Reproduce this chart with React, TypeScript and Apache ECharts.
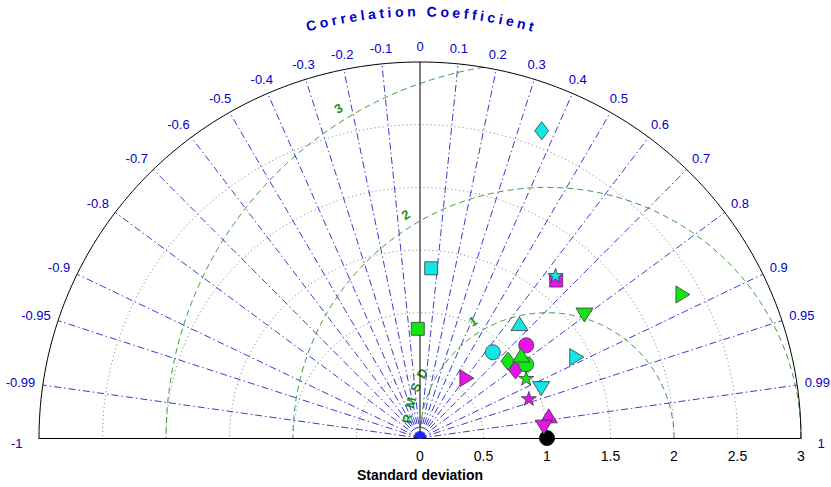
import React, { useEffect, useRef } from "react";
import * as echarts from "echarts";

// ---- data ----
const corrTicks = [-1, -0.99, -0.95, -0.9, -0.8, -0.7, -0.6, -0.5, -0.4, -0.3, -0.2, -0.1, 0, 0.1, 0.2, 0.3, 0.4, 0.5, 0.6, 0.7, 0.8, 0.9, 0.95, 0.99, 1];
const stdArcs = [0.5, 1, 1.5, 2, 2.5];
const stdMax = 3;
const stdTickStep = 0.5;
const refStd = 1;
const rmsdLevels = [1, 2, 3];

const modelStd = [1.357, 0.872, 1.652, 1.681, 2.632, 2.366, 1.625, 1.203, 1.117, 0.893, 0.928, 0.925, 1.022, 1.036, 1.393, 0.963, 1.033, 0.914, 0.604, 1.029, 0.979];
const modelCorr = [0.065, -0.02, 0.649, 0.635, 0.364, 0.875, 0.797, 0.651, 0.749, 0.642, 0.811, 0.748, 0.818, 0.769, 0.886, 0.868, 0.924, 0.938, 0.611, 0.985, 0.996];
const modelShape = ["square", "square", "square", "star", "diamond", "triRight", "triDown", "triUp", "circle", "circle", "diamond", "diamond", "circle", "triUp", "triRight", "star", "triDown", "star", "triRight", "triUp", "triDown"];
const modelColor = ["cyan", "green", "magenta", "cyan", "cyan", "green", "green", "cyan", "magenta", "cyan", "magenta", "green", "green", "green", "cyan", "green", "cyan", "magenta", "magenta", "magenta", "magenta"];

const titleText = "Correlation Coefficient";
const xAxisTitle = "Standard deviation";
const rmsdTitle = ["R", "M", "S", "D"];

// ---- styles ----
const palette: Record<string, string> = { cyan: "#14E6E6", green: "#14E614", magenta: "#E614E6", black: "#000000" };
const BLUE = "#0000C8";
const GREEN_TXT = "#1E951E";
const STAR = "path://M0,-10 L-2.245,-3.09 L-9.51,-3.09 L-3.633,1.18 L-5.88,8.09 L0,3.82 L5.88,8.09 L3.633,1.18 L9.51,-3.09 L2.245,-3.09 Z";
const shapeSymbol: Record<string, { symbol: string; size: any; rotate: number }> = {
  square: { symbol: "rect", size: 13, rotate: 0 },
  circle: { symbol: "circle", size: 15, rotate: 0 },
  diamond: { symbol: "diamond", size: [14, 18], rotate: 0 },
  triUp: { symbol: "triangle", size: [17, 14], rotate: 0 },
  triDown: { symbol: "triangle", size: [17, 14], rotate: 180 },
  triRight: { symbol: "triangle", size: [17, 14], rotate: -90 },
  star: { symbol: STAR, size: [15, 14], rotate: 0 },
};
const FONT = "Liberation Sans, Arial, sans-serif";

const toXY = (s: number, c: number) => [s * c, s * Math.sqrt(Math.max(0, 1 - c * c))];
const arcPts = (cx: number, r: number, a0: number, a1: number) => {
  const pts: number[][] = [];
  const n = 180;
  for (let i = 0; i <= n; i++) {
    const a = a0 + ((a1 - a0) * i) / n;
    pts.push([cx + r * Math.cos(a), r * Math.sin(a)]);
  }
  return pts;
};
const lineSeries = (data: number[][], color: string, type: any, z = 2) => ({
  type: "line",
  data,
  showSymbol: false,
  symbol: "none",
  silent: true,
  clip: false,
  z,
  lineStyle: { color, width: 1, type, opacity: 1 },
});

const ARIAL_W: Record<string, number> = { ".": 0.278, "-": 0.333, " ": 0.278 };
const ARIAL_BOLD_W: Record<string, number> = { C: 0.722, o: 0.611, r: 0.389, e: 0.556, l: 0.278, a: 0.556, t: 0.333, i: 0.278, n: 0.611, f: 0.333, c: 0.556, " ": 0.278, R: 0.722, M: 0.833, S: 0.667, D: 0.722 };

export default function App() {
  const ref = useRef<HTMLDivElement>(null);
  useEffect(() => {
    document.body.style.margin = "0";
    const chart = echarts.init(ref.current!, null, { renderer: "svg" });

    const series: any[] = [];
    stdArcs.forEach((s) => series.push(lineSeries(arcPts(0, s, 0, Math.PI), "#808080", [1, 3])));
    series.push(lineSeries(arcPts(0, stdMax, 0, Math.PI), "#000000", "solid", 3));
    corrTicks.forEach((c) => {
      if (Math.abs(c) >= 1) return;
      const end = toXY(stdMax, c);
      if (c === 0) series.push(lineSeries([[0, 0], end], "#000000", "solid", 3));
      else series.push(lineSeries([[0, 0], end], "#3b3bd0", [7, 3, 1.5, 3]));
    });
    rmsdLevels.forEach((r) => {
      const xi = (stdMax * stdMax - r * r + refStd * refStd) / (2 * refStd);
      const cosA = Math.max(-1, Math.min(1, (xi - refStd) / r));
      const a0 = Math.acos(cosA);
      series.push(lineSeries(arcPts(refStd, r, a0, Math.PI), "#3a9a3a", [6, 4]));
    });
    series.push({
      type: "scatter",
      silent: true,
      clip: false,
      z: 4,
      data: [[0, 0]],
      symbol: "path://M-10,0 A10,10 0 0 1 10,0 Z",
      symbolSize: [12, 6],
      symbolOffset: [0, -3],
      itemStyle: { color: "#1f1fff", opacity: 1 },
    });
    const pts: any[] = [
      {
        value: toXY(refStd, 1),
        symbol: "circle",
        symbolSize: 15,
        itemStyle: { color: palette.black, borderColor: "#000", borderWidth: 0.8, opacity: 1 },
      },
    ];
    modelStd.forEach((s, i) => {
      const sh = shapeSymbol[modelShape[i]];
      pts.push({
        value: toXY(s, modelCorr[i]),
        symbol: sh.symbol,
        symbolSize: sh.size,
        symbolRotate: sh.rotate,
        itemStyle: { color: palette[modelColor[i]], borderColor: "#3a3a3a", borderWidth: 0.8, opacity: 1 },
      });
    });
    series.push({ type: "scatter", clip: false, z: 5, data: pts, itemStyle: { opacity: 1 } });

    chart.setOption({
      animation: false,
      grid: { left: 39, right: 30, top: 62, bottom: 44, containLabel: false },
      xAxis: {
        type: "value",
        min: -stdMax,
        max: stdMax,
        interval: stdTickStep,
        splitLine: { show: false },
        axisTick: { show: false },
        axisLine: { lineStyle: { color: "#000", width: 1 } },
        axisLabel: {
          margin: 11,
          color: "#000",
          fontSize: 14,
          fontFamily: "Liberation Sans Narrow, Liberation Sans, Arial, sans-serif",
          formatter: (v: number) => (v < 0 ? "" : String(v)),
        },
        name: xAxisTitle,
        nameLocation: "middle",
        nameGap: 29,
        nameTextStyle: { color: "#000", fontSize: 14, fontWeight: "bold", fontFamily: FONT },
      },
      yAxis: { type: "value", min: 0, max: stdMax, show: false },
      series,
    });

    const px = (x: number, y: number) => chart.convertToPixel({ gridIndex: 0 } as any, [x, y]) as number[];
    const o = px(0, 0);
    const scale = px(1, 0)[0] - o[0];
    const g: any[] = [];
    const txt = (x: number, y: number, text: string, font: string, fill: string, rotation = 0) => ({
      type: "text",
      x,
      y,
      rotation,
      silent: true,
      style: { text, font, fill, align: "center", verticalAlign: "middle", textAlign: "center", textVerticalAlign: "middle" },
    });

    // correlation labels
    corrTicks.forEach((c) => {
      const th = Math.acos(c);
      const edge = Math.abs(c) === 1;
      const R = edge ? 3.13 : 3.06;
      const [x0, y0] = px(R * Math.cos(th), R * Math.sin(th));
      const label = String(c);
      const w = label.split("").reduce((a, ch) => a + (ARIAL_W[ch] ?? 0.556) * 13, 0);
      const frac = Math.min(1, Math.max(0, (Math.abs(c) - 0.3) / 0.4));
      const x = x0 + Math.sign(c) * frac * (w / 2);
      const y = y0 - 8 * Math.sin(th) + (edge ? 5 : 0);
      g.push(txt(x, y, label, `13px ${FONT}`, BLUE));
    });

    // curved title
    const tSize = 14;
    const tGap = 3.6;
    const Rt = 3.36 * scale;
    const widths = titleText.split("").map((ch) => (ARIAL_BOLD_W[ch] ?? 0.556) * tSize);
    const L = widths.reduce((a, b) => a + b, 0) + tGap * (widths.length - 1);
    let s = -L / 2;
    titleText.split("").forEach((ch, i) => {
      const sc = s + widths[i] / 2;
      s += widths[i] + tGap;
      if (ch === " ") return;
      const th = Math.PI / 2 - sc / Rt;
      g.push(txt(o[0] + Rt * Math.cos(th), o[1] - Rt * Math.sin(th), ch, `bold ${tSize}px ${FONT}`, BLUE, th - Math.PI / 2));
    });

    // RMSD labels
    const phiL = (122 * Math.PI) / 180;
    rmsdLevels.forEach((r) => {
      const rr = r + 0.1;
      const [x, y] = px(refStd + rr * Math.cos(phiL), rr * Math.sin(phiL));
      g.push(txt(x, y, String(r), `bold 13px ${FONT}`, GREEN_TXT, phiL - Math.PI / 2));
    });
    const rR = 1.11;
    const rRpx = rR * scale;
    let phi = (172 * Math.PI) / 180;
    rmsdTitle.forEach((ch, i) => {
      const w = (ARIAL_BOLD_W[ch] ?? 0.6) * 13;
      if (i > 0) {
        const wp = (ARIAL_BOLD_W[rmsdTitle[i - 1]] ?? 0.6) * 13;
        phi -= (wp / 2 + 6.5 + w / 2) / rRpx;
      }
      const [x, y] = px(refStd + rR * Math.cos(phi), rR * Math.sin(phi));
      g.push(txt(x, y, ch, `bold 13px ${FONT}`, GREEN_TXT, phi - Math.PI / 2));
    });

    chart.setOption({ graphic: g });
    return () => chart.dispose();
  }, []);
  return <div ref={ref} style={{ width: 831, height: 487 }} />;
}
